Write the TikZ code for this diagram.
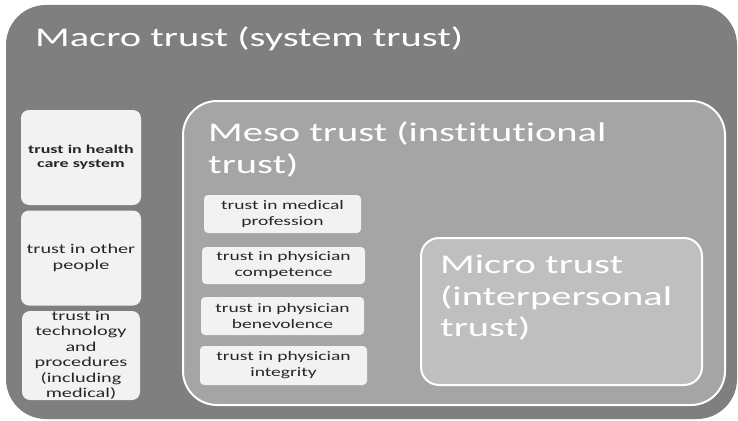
\documentclass[tikz,border=0pt]{standalone}
\usepackage{fontspec}
\setmainfont{Carlito}[FakeStretch=1.5, Ligatures={NoCommon}]
\definecolor{macrogray}{HTML}{7F7F7F}
\definecolor{mesogray}{HTML}{A5A5A5}
\definecolor{microgray}{HTML}{BFBFBF}
\definecolor{itemfill}{HTML}{F2F2F2}
\definecolor{itemtext}{HTML}{262626}
\begin{document}
\begin{tikzpicture}[x=1pt,y=-1pt,
  itembox/.style={fill=itemfill, rounded corners=4pt, inner sep=0pt, align=center,
    text=itemtext, font=\fontsize{13}{16}\selectfont},
  sidebox/.style={fill=itemfill, rounded corners=8pt, inner sep=0pt, align=center,
    text=itemtext, font=\fontsize{13.5}{15.5}\selectfont},
  heading/.style={anchor=north west, align=left, text=white, inner sep=0pt,
    font=\fontsize{27}{31.5}\selectfont}]
\useasboundingbox (0,0) rectangle (738,420);
\fill[white] (0,0) rectangle (738,420);
% nested trust levels
\fill[macrogray, rounded corners=40pt] (6,5) rectangle (737,419);
\node[heading] (macro) at (35,27) {Macro trust (system trust)};
\draw[white, line width=2pt, fill=mesogray, rounded corners=34pt] (183,101) rectangle (725,405);
\node[heading] (meso) at (208,122) {Meso trust (institutional\\trust)};
\draw[white, line width=2pt, fill=microgray, rounded corners=18pt] (421,238) rectangle (702,385);
\node[heading] (micro) at (440,255) {Micro trust\\(interpersonal\\trust)};
% system-level items
\node[sidebox, minimum width=120pt, minimum height=95pt, font=\fontsize{12}{14}\selectfont\bfseries] (hcs) at (81,157.5) {trust in health\\care system};
\node[sidebox, minimum width=120pt, minimum height=95pt] (people) at (81,258) {trust in other\\people};
\node[sidebox, minimum width=118pt, minimum height=89pt] (tech) at (81,355.5) {trust in\\technology\\and\\procedures\\(including\\medical)};
% institutional items
\node[itembox, minimum width=157pt, minimum height=38pt] (prof) at (282.5,214) {trust in medical\\profession};
\node[itembox, minimum width=163pt, minimum height=37pt] (comp) at (283.5,265.5) {trust in physician\\competence};
\node[itembox, minimum width=163pt, minimum height=38pt] (bene) at (282.5,316) {trust in physician\\benevolence};
\node[itembox, minimum width=167pt, minimum height=39pt] (integ) at (283.5,365.5) {trust in physician\\integrity};
\end{tikzpicture}
\end{document}
